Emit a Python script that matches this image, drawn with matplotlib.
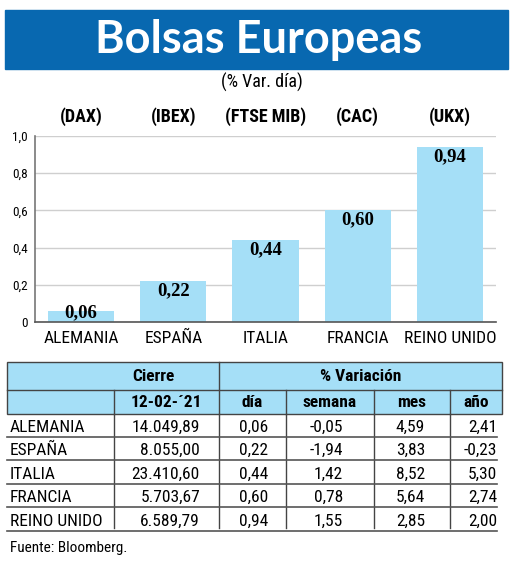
# Bolsas Europeas - gráfico de barras + tabla
import matplotlib.pyplot as plt
from matplotlib.patches import Rectangle

# Datos
paises = ['ALEMANIA', 'ESPAÑA', 'ITALIA', 'FRANCIA', 'REINO UNIDO']
indices = ['(DAX)', '(IBEX)', '(FTSE MIB)', '(CAC)', '(UKX)']
var_dia = [0.06, 0.22, 0.44, 0.60, 0.94]
cierre = ['14.049,89', '8.055,00', '23.410,60', '5.703,67', '6.589,79']
var_semana = [-0.05, -1.94, 1.42, 0.78, 1.55]
var_mes = [4.59, 3.83, 8.52, 5.64, 2.85]
var_anio = [2.41, -0.23, 5.30, 2.74, 2.00]
y_ticks = [0, 0.2, 0.4, 0.6, 0.8, 1.0]

# Colores y fuentes
azul = '#0868b0'
celeste = '#a5dff7'
narrow = ['Roboto Condensed', 'DejaVu Sans Condensed', 'Liberation Sans Narrow',
          'Roboto', 'DejaVu Sans']
W, H = 520, 561


def coma(v):
    return f'{v:.2f}'.replace('.', ',')


def txt(eje, x, y, s, **kw):
    kw.setdefault('family', narrow)
    kw.setdefault('fontstretch', 'condensed')
    return eje.text(x, y, s, **kw)


fig = plt.figure(figsize=(W / 100, H / 100), dpi=100)

# capa en píxeles para cabecera y tabla
capa = fig.add_axes([0, 0, 1, 1])
capa.set_xlim(0, W)
capa.set_ylim(H, 0)
capa.axis('off')

# cabecera
capa.add_patch(Rectangle((5, 10), 503, 59, color=azul))
capa.text(259, 40, 'Bolsas Europeas', color='white', fontsize=32.5, fontweight='bold',
          family=['Lato', 'DejaVu Sans'], ha='center', va='center')
txt(capa, 262, 82, '(% Var. día)', fontsize=13, ha='center', va='center')

# gráfico de barras
ax = fig.add_axes([35 / W, (H - 322) / H, 461 / W, 186 / H])
x = range(len(paises))
ax.bar(x, var_dia, width=0.72, color=celeste, zorder=2)
ax.set_xlim(-0.5, 4.5)
ax.set_ylim(0, 1.0)
ax.set_yticks(y_ticks)
ax.set_yticklabels(['0' if t == 0 else f'{t:.1f}'.replace('.', ',') for t in y_ticks],
                   fontsize=9.5, family=narrow, fontstretch='condensed')
ax.set_xticks(list(x))
ax.set_xticklabels(paises, fontsize=12.5, family=narrow, fontstretch='condensed')
ax.tick_params(axis='x', length=0, pad=6.5)
ax.tick_params(axis='y', length=0, pad=5)
ax.grid(axis='y', color='#cfcfcf', linewidth=1, zorder=0)
ax.spines[['top', 'right']].set_visible(False)
ax.spines['left'].set_color('#777777')
ax.spines['bottom'].set_color('#555555')
ax.spines['left'].set_linewidth(1.2)
ax.spines['bottom'].set_linewidth(1.2)
for i, v in enumerate(var_dia):
    ax.text(i, max(v - 0.05, 0.05), coma(v), ha='center', va='center', fontsize=13.5,
            fontweight='bold', family=['Liberation Serif', 'DejaVu Serif'], zorder=3)
# índices sobre las barras
for i, nombre in enumerate(indices):
    ax.annotate(nombre, xy=(i, 1.0), xytext=(0, 14), textcoords='offset points',
                ha='center', va='center', fontsize=13, fontweight='bold', family=narrow,
                fontstretch='condensed')

# tabla
cols = [7, 114, 219, 286, 374, 450, 502]
derechas = [200, 268, 343, 425, 497]
top, fila1, fila2 = 362, 390, 414
alto = 23.5
linea = '#444444'
capa.add_patch(Rectangle((cols[0], top), cols[-1] - cols[0], fila2 - top,
                         facecolor=celeste, edgecolor=linea, linewidth=1))
capa.plot([cols[0], cols[-1]], [fila1, fila1], color=linea, lw=1)
capa.plot([cols[2], cols[2]], [top, fila2], color=linea, lw=1)
for c in cols[1:2] + cols[3:6]:
    capa.plot([c, c], [fila1, fila2], color=linea, lw=1)
txt(capa, 153, (top + fila1) / 2, 'Cierre', fontsize=12.5, fontweight='bold',
    ha='center', va='center')
txt(capa, (cols[2] + cols[-1]) / 2, (top + fila1) / 2, '% Variación', fontsize=12.5,
    fontweight='bold', ha='center', va='center')
cabeceras = ['12-02-´21', 'día', 'semana', 'mes', 'año']
for j, t in enumerate(cabeceras):
    txt(capa, (cols[j + 1] + cols[j + 2]) / 2, (fila1 + fila2) / 2, t, fontsize=12.5,
        fontweight='bold', ha='center', va='center')

# filas de datos
fin = fila2 + alto * len(paises)
for c in cols[1:-1]:
    capa.plot([c, c], [fila2, fin - 4], color=linea, lw=1)
filas = zip(paises, cierre, var_dia, var_semana, var_mes, var_anio)
for k, (p, c, d, s, m, a) in enumerate(filas):
    yb = fila2 + alto * (k + 1)
    yc = yb - alto / 2 + 1.5
    capa.plot([cols[0], cols[-1] - 5], [yb - 1, yb - 1], color='#555555', lw=1.2)
    txt(capa, 10, yc, p, fontsize=12.5, ha='left', va='center')
    celdas = [c, coma(d), coma(s), coma(m), coma(a)]
    for j, t in enumerate(celdas):
        txt(capa, derechas[j], yc, t, fontsize=12.5, ha='right', va='center')

txt(capa, 10, 548, 'Fuente: Bloomberg.', fontsize=11, ha='left', va='center')

fig.savefig('out.png', dpi=100)
